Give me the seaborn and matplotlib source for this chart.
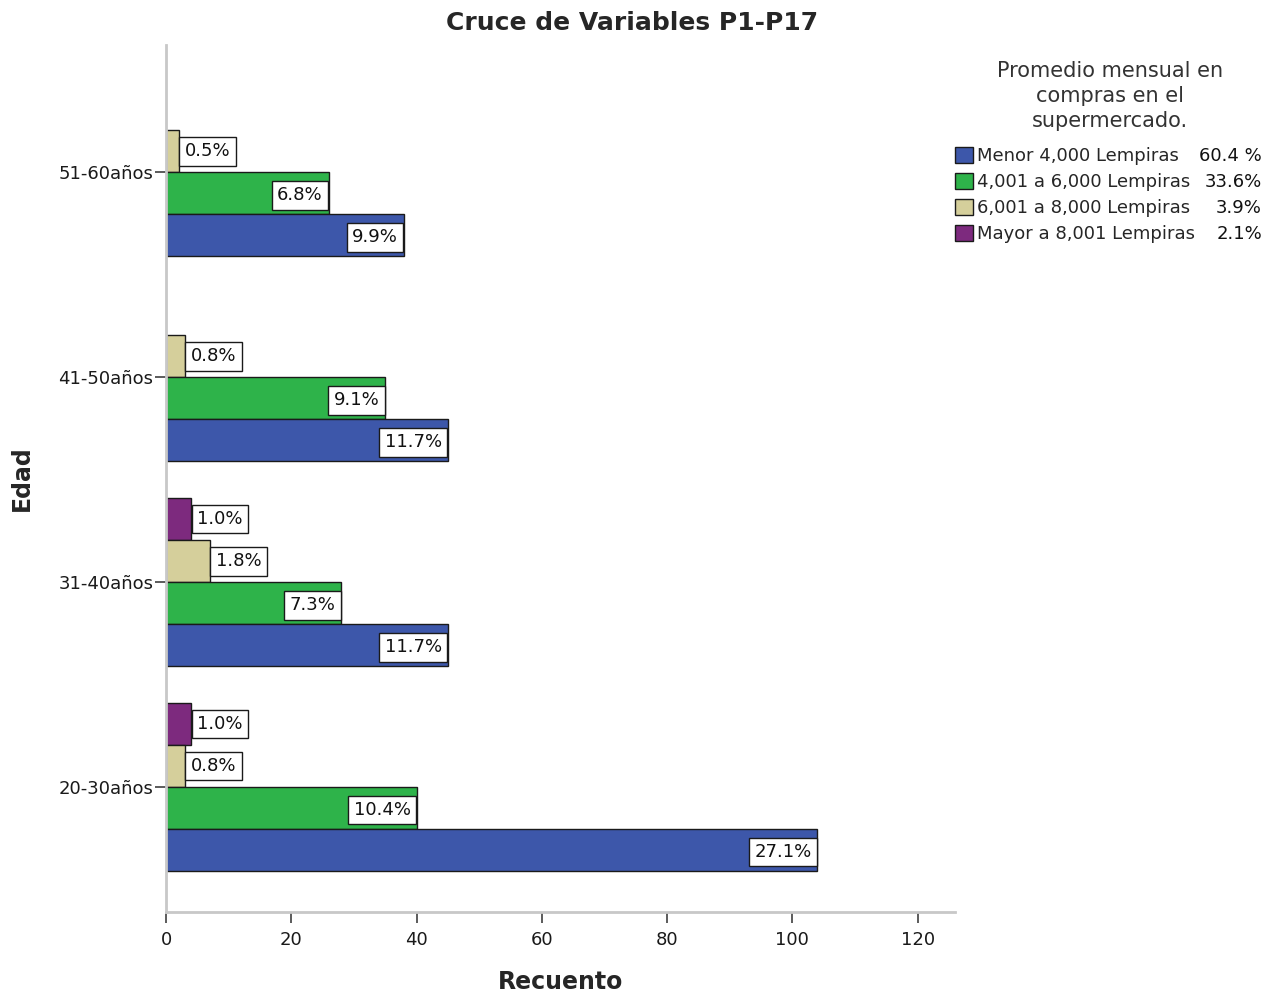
import matplotlib
matplotlib.use("Agg")
import matplotlib.pyplot as plt
from matplotlib.patches import Patch
import seaborn as sns
import pandas as pd

# Age groups (top to bottom) and spending brackets
edades = ["51-60años", "41-50años", "31-40años", "20-30años"]
grupos = ["Mayor a 8,001 Lempiras", "6,001 a 8,000 Lempiras",
          "4,001 a 6,000 Lempiras", "Menor 4,000 Lempiras"]

# Counts per age group for each bracket (same order as edades)
menor_4000 = [38, 45, 45, 104]
de_4001_6000 = [26, 35, 28, 40]
de_6001_8000 = [2, 3, 7, 3]
mayor_8001 = [0, 0, 4, 4]

colores = {
    "Menor 4,000 Lempiras": "#3D57AA",
    "4,001 a 6,000 Lempiras": "#2EB34A",
    "6,001 a 8,000 Lempiras": "#D5CF9B",
    "Mayor a 8,001 Lempiras": "#7D2A7E",
}

series = {
    "Menor 4,000 Lempiras": menor_4000,
    "4,001 a 6,000 Lempiras": de_4001_6000,
    "6,001 a 8,000 Lempiras": de_6001_8000,
    "Mayor a 8,001 Lempiras": mayor_8001,
}

rows = []
for g, vals in series.items():
    for e, v in zip(edades, vals):
        if v > 0:
            rows.append({"Edad": e, "Grupo": g, "Recuento": v})
df = pd.DataFrame(rows)
total = sum(sum(v) for v in series.values())

sns.set_theme(style="white")
plt.rcParams["font.family"] = ["DejaVu Sans"]

fig = plt.figure(figsize=(12.77, 9.94), dpi=100)
ax = fig.add_axes([0.130, 0.0825, 0.618, 0.872])

sns.barplot(data=df, x="Recuento", y="Edad", hue="Grupo", order=edades,
            hue_order=grupos, palette=colores, orient="h", width=0.82,
            edgecolor="#1a1a1a", linewidth=1.0, legend=False, ax=ax,
            saturation=1)

ax.set_xlim(0, 126)
ax.set_ylim(3.61, -0.62)
ax.set_xticks([0, 20, 40, 60, 80, 100, 120])

for side in ["top", "right"]:
    ax.spines[side].set_visible(False)
for side in ["left", "bottom"]:
    ax.spines[side].set_color("#C8C8C8")
    ax.spines[side].set_linewidth(2)

ax.tick_params(axis="both", which="both", direction="out", length=8,
               width=1.2, color="#404040", labelsize=13, labelcolor="#1a1a1a",
               bottom=True, left=True)
ax.tick_params(axis="y", pad=1)
ax.tick_params(axis="x", pad=6)

ax.set_xlabel("Recuento", fontsize=17, fontweight="bold", labelpad=15)
ax.set_ylabel("Edad", fontsize=17, fontweight="bold", labelpad=18)
fig.suptitle("Cruce de Variables P1-P17", fontsize=18, fontweight="bold",
             x=0.495, y=0.989)

# Value labels at each bar end, as share of all respondents
for p in ax.patches:
    w = p.get_width()
    if w <= 0:
        continue
    yc = p.get_y() + p.get_height() / 2
    txt = f"{w / total * 100:.1f}%"
    box = dict(boxstyle="square,pad=0.3", fc="white", ec="#1a1a1a", lw=1)
    if w > 9:
        ax.annotate(txt, (w, yc), xytext=(-6, -2), textcoords="offset pixels",
                    ha="right", va="center", fontsize=13, color="#111111",
                    bbox=box)
    else:
        ax.annotate(txt, (w, yc), xytext=(6, 0), textcoords="offset pixels",
                    ha="left", va="center", fontsize=13, color="#111111",
                    bbox=box)

# Legend heading, centred over the entries and their shares
fig.text(1110 / 1277, 0.9385, "Promedio mensual en\ncompras en el\nsupermercado.",
         ha="center", va="top", fontsize=15, color="#333333",
         linespacing=1.3, multialignment="center")

# Legend with brackets in display order and their overall shares
leg_order = ["Menor 4,000 Lempiras", "4,001 a 6,000 Lempiras",
             "6,001 a 8,000 Lempiras", "Mayor a 8,001 Lempiras"]
handles = [Patch(facecolor=colores[g], edgecolor="#1a1a1a", lw=1) for g in leg_order]
leg = fig.legend(handles, leg_order,
                 loc="upper left", bbox_to_anchor=(0.748, 0.852),
                 frameon=False, fontsize=13,
                 handlelength=1.0, handleheight=1.0, handletextpad=0.2,
                 labelspacing=0.42, borderaxespad=0, borderpad=0)

fig.canvas.draw()
inv = fig.transFigure.inverted()
for g, t in zip(leg_order, leg.get_texts()):
    bb = t.get_window_extent()
    yc = (bb.y0 + bb.y1) / 2
    share = sum(series[g]) / total * 100
    lab = f"{share:.1f} %" if g == "Menor 4,000 Lempiras" else f"{share:.1f}%"
    fx, fy = inv.transform((1262, yc))
    fig.text(fx, fy, lab, ha="right", va="center", fontsize=13, color="#111111")

fig.savefig("out.png", dpi=100)
